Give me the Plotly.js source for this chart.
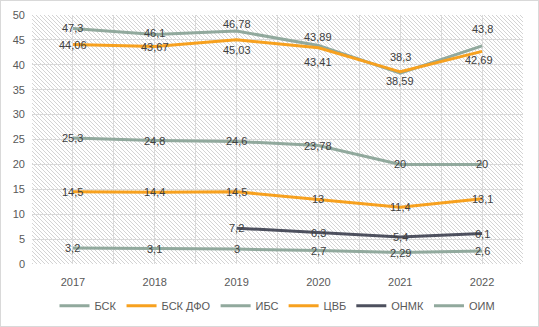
<!DOCTYPE html>
<html>
<head>
<meta charset="utf-8">
<script src="https://cdn.plot.ly/plotly-3.0.1.min.js"></script>
<style>
html,body{margin:0;padding:0;background:#fff;}
#chart{width:537px;height:325px;border:1px solid #d9d9d9;}
</style>
</head>
<body>
<div id="chart"></div>
<script>
const years = ['2017','2018','2019','2020','2021','2022'];
const seriesNames = ['БСК','БСК ДФО','ИБС','ЦВБ','ОНМК','ОИМ'];
const bsk    = [47.3, 46.1, 46.78, 43.89, 38.3, 43.8];
const bskDfo = [44.06, 43.67, 45.03, 43.41, 38.59, 42.69];
const ibs    = [25.3, 24.8, 24.6, 23.78, 20, 20];
const cvb    = [14.5, 14.4, 14.5, 13, 11.4, 13.1];
const onmk   = [null, null, 7.2, 6.3, 5.4, 6.1];
const oim    = [3.2, 3.1, 3, 2.7, 2.29, 2.6];
const yTicks = [0,5,10,15,20,25,30,35,40,45,50];

const GREY = '#91a99d', ORANGE = '#f7a11f', DARK = '#4d505e';
const FONT = 'Liberation Sans, Arial, sans-serif';
const xs = years.map((y,i)=>i);
const fmt = v => String(v).replace('.', ',');

// label pixel offsets (style only): up-shift per point
const shiftBsk = [0, 1, 7, 8, 16, 17];
const shiftDfo = [0, 0, -10, -14, -9, -9];
const xshiftDfo = [0, 0, 0, 0, 0, -3];

const series = [
  {name:seriesNames[0], y:bsk,    color:GREY,   ys:shiftBsk},
  {name:seriesNames[1], y:bskDfo, color:ORANGE, ys:shiftDfo, xs:xshiftDfo},
  {name:seriesNames[2], y:ibs,    color:GREY},
  {name:seriesNames[3], y:cvb,    color:ORANGE},
  {name:seriesNames[4], y:onmk,   color:DARK},
  {name:seriesNames[5], y:oim,    color:GREY}
];

const data = series.map(s => ({
  type:'scatter', mode:'lines', name:s.name, x:xs, y:s.y,
  line:{color:s.color, width:3}, connectgaps:false, hoverinfo:'skip'
}));

const annotations = [];
series.forEach(s => {
  s.y.forEach((v,i) => {
    if (v === null) return;
    annotations.push({
      x:xs[i], y:v, xref:'x', yref:'y', text:fmt(v), showarrow:false,
      xanchor:'center', yanchor:'middle',
      yshift: s.ys ? s.ys[i] : 0, xshift: s.xs ? s.xs[i] : 0,
      font:{family:FONT, size:11, color:'#404040'}
    });
  });
});

const W = 491, H = 249;
const svg = '<svg xmlns="http://www.w3.org/2000/svg" width="'+W+'" height="'+H+'" shape-rendering="crispEdges">' +
  '<defs><pattern id="p" width="4" height="4" patternUnits="userSpaceOnUse">' +
  '<path d="M-1,-1 L5,5 M-1,3 L1,5 M3,-1 L5,1" stroke="#d4d4d4" stroke-width="1"/></pattern></defs>' +
  '<rect width="'+W+'" height="'+H+'" fill="url(#p)"/></svg>';
const img = 'data:image/svg+xml;charset=utf-8,' + encodeURIComponent(svg);

const layout = {
  width:537, height:325,
  margin:{l:31, r:15, t:14, b:62},
  paper_bgcolor:'#ffffff', plot_bgcolor:'rgba(0,0,0,0)',
  separators:', ',
  font:{family:FONT, size:11, color:'#595959'},
  showlegend:true,
  legend:{orientation:'h', x:0.5, xanchor:'center', xref:'paper',
          yref:'container', y:0.062, yanchor:'middle',
          font:{size:11, color:'#595959'}, itemwidth:30, tracegroupgap:0},
  xaxis:{range:[-0.5,5.5], tickmode:'array', tickvals:xs, ticktext:years, showgrid:false,
         zeroline:false, showline:false, ticks:'', fixedrange:true, ticklabelstandoff:10,
         minor:{tickmode:'linear', dtick:0.5, tick0:-0.5, showgrid:true, gridcolor:'#d9d9d9', gridwidth:1, ticks:''},
         tickfont:{size:11, color:'#595959'}},
  yaxis:{range:[0,50], tickmode:'array', tickvals:yTicks, showgrid:true, gridcolor:'#d9d9d9', gridwidth:1,
         zeroline:false, showline:false, ticks:'', fixedrange:true, ticklabelstandoff:6,
         tickfont:{size:11, color:'#595959'}},
  annotations: annotations,
  images:[{source:img, xref:'paper', yref:'paper', x:0, y:1, sizex:1, sizey:1,
           xanchor:'left', yanchor:'top', sizing:'stretch', layer:'below'}]
};
Plotly.newPlot('chart', data, layout, {displayModeBar:false, staticPlot:true});
</script>
</body>
</html>
